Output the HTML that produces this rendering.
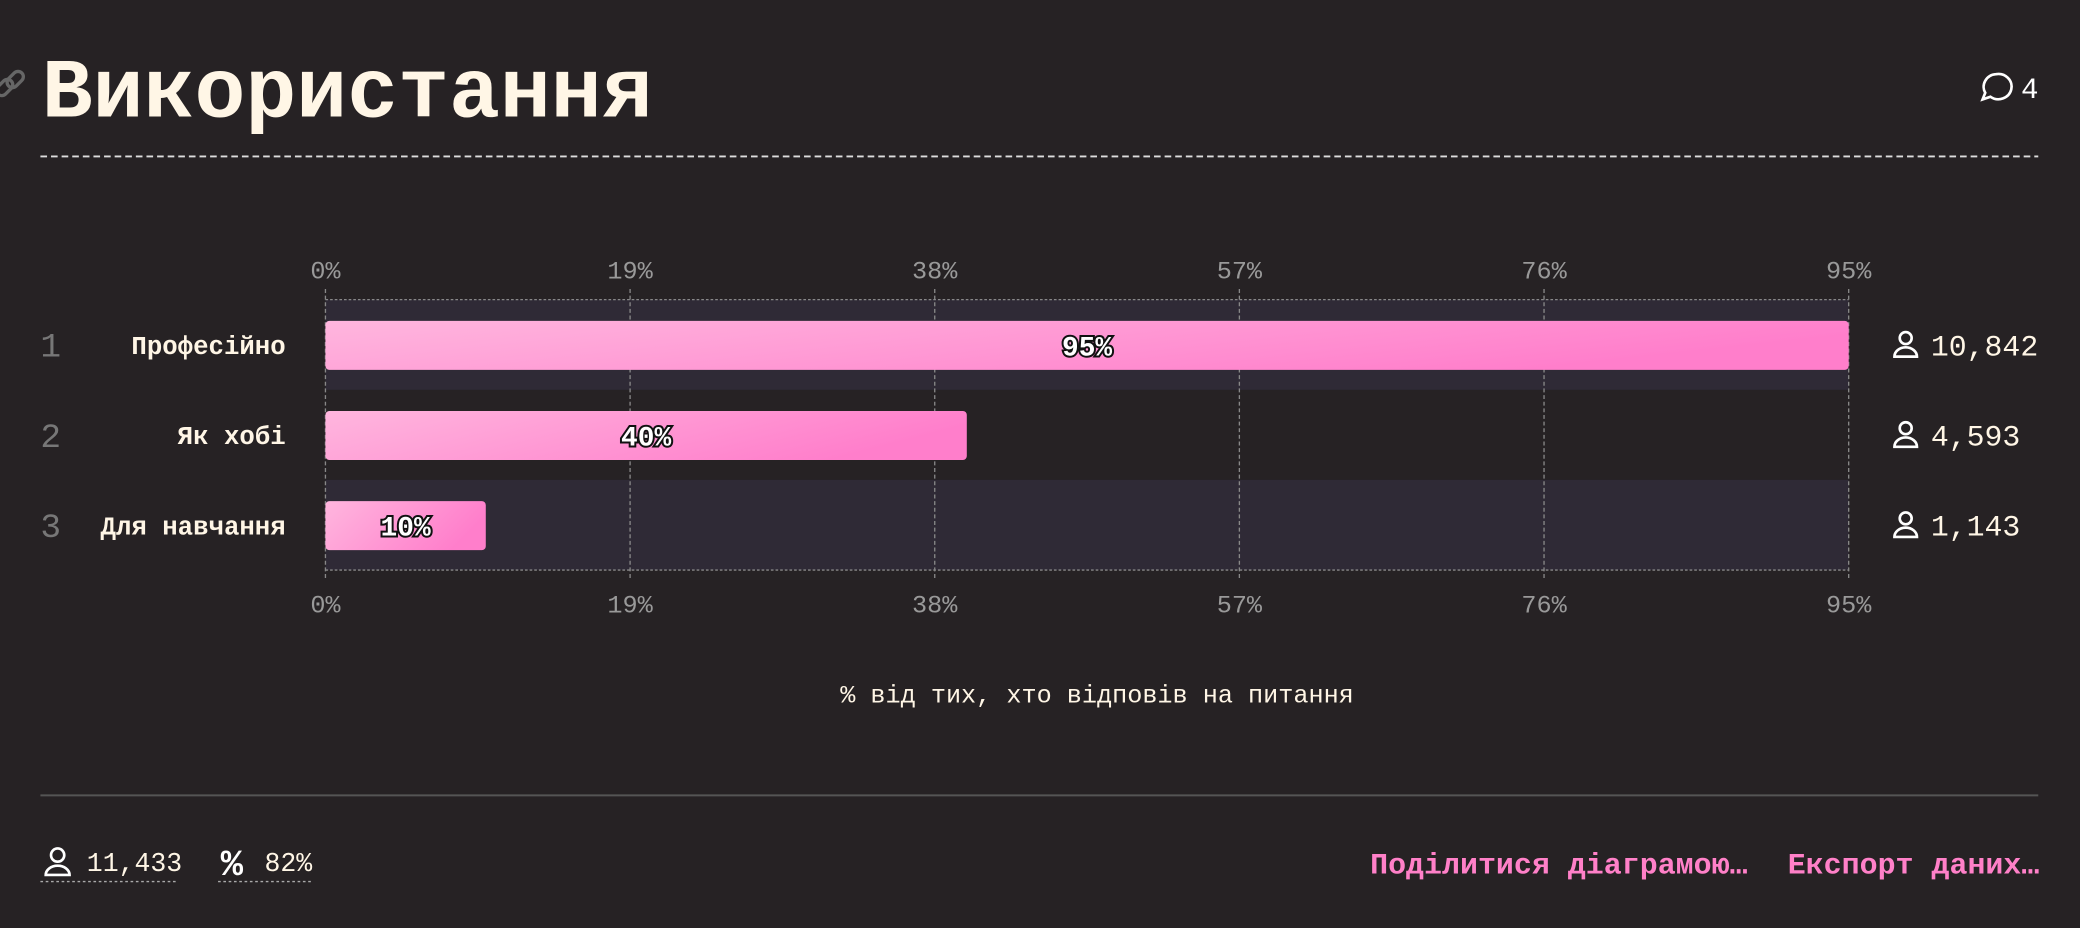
<!DOCTYPE html>
<html><head><meta charset="utf-8">
<style>
html,body{margin:0;padding:0;background:#262224;overflow:hidden}
svg{display:block}
text{font-family:"Liberation Mono","DejaVu Sans Mono",monospace}
</style></head>
<body>
<svg id="c" width="2080" height="928" viewBox="0 0 1568 700" xmlns="http://www.w3.org/2000/svg">
<defs>
<linearGradient id="g" x1="0" y1="0" x2="1" y2="0.3">
<stop offset="0" stop-color="#ffb6de"/><stop offset="1" stop-color="#ff7ecb"/>
</linearGradient>
</defs>
<rect width="1568" height="700" fill="#262224"/>
<g stroke="#666" stroke-width="2.5" fill="none">
<rect x="-4" y="62" width="14" height="8" rx="4" transform="rotate(-45 3 66)"/>
<rect x="4" y="56" width="14" height="8" rx="4" transform="rotate(-45 11 60)"/>
</g>
<text x="31" y="88" font-size="64" font-weight="bold" fill="#fff6e6">Використання</text>
<g>
<path d="M1505 56a10 9.5 0 1 1 -4 17l-6 2 2-5a10 9.5 0 0 1 8-14z" fill="none" stroke="#fff" stroke-width="2"/>
<text x="1524" y="74" font-size="22" fill="#fff">4</text>
</g>
<line x1="30" y1="118" x2="1537" y2="118" stroke="#ddd" stroke-width="1.5" stroke-dasharray="5,3"/>
<g id="plot"></g>
<text x="827" y="530" font-size="19" fill="#fff6e6" text-anchor="middle">% від тих, хто відповів на питання</text>
<line x1="30" y1="600" x2="1537" y2="600" stroke="#555" stroke-width="1.5"/>
<g>
<circle cx="43" cy="645" r="5" fill="none" stroke="#fff" stroke-width="2"/>
<path d="M34 660a9 7 0 0 1 18 0z" fill="none" stroke="#fff" stroke-width="2"/>
<text x="65" y="657" font-size="20" fill="#fff6e6">11,433</text>
<line x1="30" y1="665" x2="134" y2="665" stroke="#aaa" stroke-dasharray="2,2"/>
</g>
<g>
<text x="166" y="660" font-size="28" fill="#fff" font-weight="bold">%</text>
<text x="199" y="657" font-size="20" fill="#fff6e6">82%</text>
<line x1="164" y1="665" x2="234" y2="665" stroke="#aaa" stroke-dasharray="2,2"/>
</g>
<text x="1033" y="659" font-size="22.6" font-weight="bold" fill="#ff80c8">Поділитися діаграмою…</text>
<text x="1348" y="659" font-size="22.6" font-weight="bold" fill="#ff80c8">Експорт даних…</text>
</svg>
<script>
const categories = ["Професійно","Як хобі","Для навчання"];
const values = [95, 40, 10];
const counts = ["10,842","4,593","1,143"];
const ticks = [0, 19, 38, 57, 76, 95];
const tickLabels = ["0%","19%","38%","57%","76%","95%"];

const NS="http://www.w3.org/2000/svg";
const plot=document.getElementById('plot');
const x0=245,x1=1394,xmax=95;
const xs=v=>x0+(v/xmax)*(x1-x0);
const top0=226,rowH=68,barH=37;
function el(t,a,p){const e=document.createElementNS(NS,t);for(const k in a)e.setAttribute(k,a[k]);(p||plot).appendChild(e);return e;}
// bands
categories.forEach((c,i)=>{
  if(i%2===0){const b=el('rect',{x:x0,y:top0+i*rowH,width:x1-x0,height:rowH,fill:'#2f2a36'});
  
  }
});
const bottom=top0+categories.length*rowH;
// grid
ticks.forEach((t,i)=>{
  const x=xs(t);
  const l=el('line',{x1:x,y1:top0-8,x2:x,y2:bottom+8,stroke:'#888','stroke-width':1,'stroke-dasharray':'3,2'});
  
  
  [top0-16,bottom+32].forEach(y=>{
    const tx=el('text',{x:x,y:y,'font-size':19,fill:'#999','text-anchor':'middle'});
    tx.textContent=tickLabels[i];
    
    
  });
});
[top0,bottom].forEach(y=>{
  const l=el('line',{x1:x0,y1:y,x2:x1,y2:y,stroke:'#888','stroke-width':1,'stroke-dasharray':'2,1.5'});
  
  
});
categories.forEach((c,i)=>{
  const cy=top0+i*rowH+rowH/2;
  const n=el('text',{x:30,y:cy+9,'font-size':26,fill:'#777'});n.textContent=String(i+1);
  
  
  const lb=el('text',{x:215,y:cy+7,'font-size':19.4,'font-weight':'bold',fill:'#fff6e6','text-anchor':'end'});lb.textContent=c;
  
  
  const b=el('rect',{x:x0,y:cy-barH/2+0.5,width:xs(values[i])-x0,height:barH,rx:3,fill:'url(#g)'});
  
  
  const v=el('text',{x:(x0+xs(values[i]))/2,y:cy+8,'font-size':21,'font-weight':'bold',fill:'#fff',stroke:'#111','stroke-width':3,'paint-order':'stroke','text-anchor':'middle'});
  v.textContent=values[i]+'%';
  
  
  const g=el('g',{});
  
  
  el('circle',{cx:1437,cy:cy-5,r:4.5,fill:'none',stroke:'#fff','stroke-width':2},g);
  el('path',{d:`M1428.5 ${cy+9}a8.5 7 0 0 1 17 0z`,fill:'none',stroke:'#fff','stroke-width':2},g);
  const ct=el('text',{x:1456,y:cy+8,'font-size':22.5,fill:'#fff6e6'},g);ct.textContent=counts[i];
});
</script>
</body></html>
